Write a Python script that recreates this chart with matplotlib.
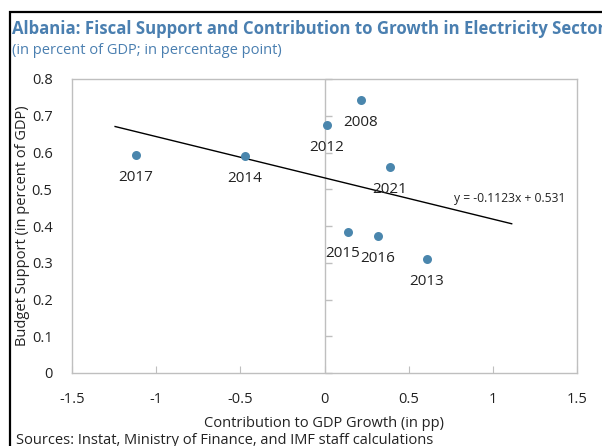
import numpy as np
import matplotlib.pyplot as plt
from matplotlib import markers
from matplotlib.patches import Rectangle

plt.rcParams['font.family'] = ['Open Sans', 'DejaVu Sans']

# data
years = ['2017', '2014', '2012', '2008', '2021', '2015', '2016', '2013']
growth = [-1.122, -0.472, 0.013, 0.217, 0.389, 0.141, 0.316, 0.607]
support = [0.593, 0.590, 0.675, 0.743, 0.560, 0.385, 0.373, 0.310]

slope = -0.1123
intercept = 0.531
trend_x = [-1.244, 1.112]

xticks = [-1.5, -1, -0.5, 0, 0.5, 1, 1.5]
xtick_labels = ['-1.5', '-1', '-0.5', '0', '0.5', '1', '1.5']
yticks = [0, 0.1, 0.2, 0.3, 0.4, 0.5, 0.6, 0.7, 0.8]
ytick_labels = ['0', '0.1', '0.2', '0.3', '0.4', '0.5', '0.6', '0.7', '0.8']

blue = '#4a86ad'
title_blue = '#4a7fb0'
grey = '#bfbfbf'

fig = plt.figure(figsize=(6.02, 4.46), dpi=100)
ax = fig.add_axes([72/602, 1 - 373/446, 505/602, 294/446])

# outer frame (cut off at right and bottom like the original)
fig.patches.append(Rectangle((10/602, -0.1), 1.2, 1 - 12/446 + 0.1,
                             transform=fig.transFigure, fill=False,
                             edgecolor='black', linewidth=1.6))

ax.set_xlim(-1.5, 1.5)
ax.set_ylim(0, 0.8)
for s in ax.spines.values():
    s.set_color(grey)
    s.set_linewidth(1)

ax.set_xticks(xticks)
ax.set_xticklabels(xtick_labels, fontsize=10.5, color='#222222')
ax.set_yticks(yticks)
ax.set_yticklabels(ytick_labels, fontsize=10.5, color='#222222')
ax.tick_params(axis='x', direction='in', length=5, color=grey, pad=14)
ax.tick_params(axis='y', length=0, pad=14)

# vertical axis at x = 0 with its ticks
ax.axvline(0, color=grey, linewidth=1, zorder=1)
ax.plot([0] * len(yticks), yticks, linestyle='none', marker=markers.TICKRIGHT,
        markersize=5, color=grey, clip_on=False, zorder=1)

# trend line
tx = np.array(trend_x)
ax.plot(tx, slope * tx + intercept, color='black', linewidth=1, zorder=2)
ax.text(0.77, slope * 0.77 + intercept + 0.012, 'y = -0.1123x + 0.531',
        fontsize=8.7, color='#222222', va='bottom', ha='left')

ax.scatter(growth, support, s=42, color=blue, zorder=3, linewidths=0)

for yr, x, y in zip(years, growth, support):
    dx = -4 if yr == '2015' else 0
    ax.annotate(yr, (x, y), xytext=(dx, -16), textcoords='offset points',
                ha='center', va='center', fontsize=11, color='#222222')

ax.set_xlabel('Contribution to GDP Growth (in pp)', fontsize=10.5,
              color='#222222', labelpad=6)
ax.set_ylabel('Budget Support (in percent of GDP)', fontsize=10.5,
              color='#222222', labelpad=1)

fig.text(12/602, 1 - 29/446, 'Albania: Fiscal Support and Contribution to Growth in Electricity Sector',
         fontsize=12.1, fontweight='bold', color=title_blue, va='center', ha='left')
fig.text(12/602, 1 - 50/446, '(in percent of GDP; in percentage point)',
         fontsize=10.5, color=title_blue, va='center', ha='left')
fig.text(16/602, 1 - 441/446, 'Sources: Instat, Ministry of Finance, and IMF staff calculations',
         fontsize=10.5, color='#222222', va='center', ha='left')

fig.savefig('out.png', dpi=100)
